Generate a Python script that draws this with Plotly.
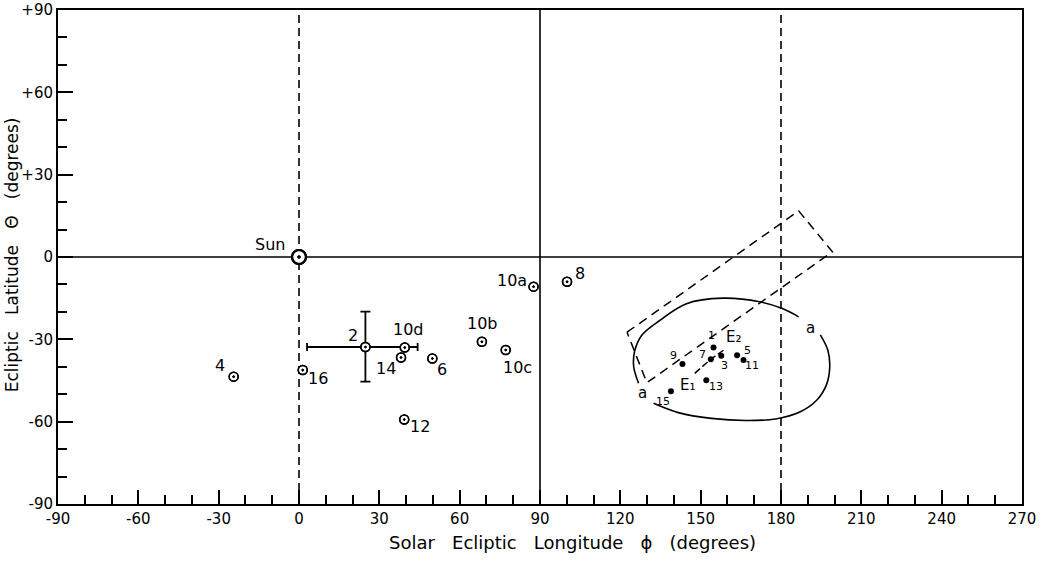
import plotly.graph_objects as go

# ---------------- data (degrees) ----------------
# open "dotted circle" observations
open_names = ["4", "16", "14", "6", "12", "10a", "8", "10b", "10c", "10d"]
open_lon = [-24.4, 1.4, 38.1, 49.8, 39.3, 87.6, 100.1, 68.3, 77.2, 39.5]
open_lat = [-43.6, -41.2, -36.6, -37.0, -59.2, -10.8, -9.0, -30.9, -33.9, -33.0]

# point 2 with error bars
p2_lon = [24.8]
p2_lat = [-32.8]
p2_err_lon_plus = [19.5]
p2_err_lon_minus = [21.8]
p2_err_lat_plus = [12.9]
p2_err_lat_minus = [12.6]

# Sun
sun_lon = [0.0]
sun_lat = [0.0]

# filled dots (cluster)
dot_names = ["1", "3", "7", "9", "5", "11", "13", "15"]
dot_lon = [154.8, 157.7, 153.8, 143.2, 163.6, 166.0, 152.1, 138.9]
dot_lat = [-33.0, -36.0, -37.3, -39.0, -35.8, -37.5, -44.9, -48.9]

# closed curve "a" (two solid pieces, gaps at the labels)
curve_a1_lon = [126.8, 125.0, 125.3, 128.0, 134.9, 144.7, 158.3, 172.0, 180.5, 186.6]
curve_a1_lat = [-46.0, -40.0, -34.5, -28.5, -23.0, -17.0, -15.0, -16.3, -18.8, -21.8]
curve_a2_lon = [194.7, 197.5, 198.2, 197.0, 193.5, 187.0, 178.0, 166.8, 154.0, 142.0, 132.4]
curve_a2_lat = [-28.4, -34.0, -40.0, -46.5, -52.0, -56.5, -59.0, -59.6, -58.8, -56.8, -53.3]

# dashed rotated rectangle
rect_lon = [122.5, 186.6, 199.2, 129.9, 122.5]
rect_lat = [-27.4, 16.8, 1.9, -45.8, -27.4]

# short dashed curve E1 -> E2
e_lon = [147.8, 151.0, 153.8, 156.5, 158.9]
e_lat = [-42.4, -39.6, -37.3, -35.4, -33.7]

# free labels
free_text = ["E\u2081", "E\u2082", "a", "a"]
free_lon = [145.3, 162.6, 128.1, 190.9]
free_lat = [-46.6, -29.0, -49.5, -25.8]

# reference lines
solid_lon_lines = [90]
dashed_lon_lines = [0, 180]
solid_lat_lines = [0]

# axis ticks
x_ticks = [-90, -60, -30, 0, 30, 60, 90, 120, 150, 180, 210, 240, 270]
x_ticklabels = ["-90", "-60", "-30", "0", "30", "60", "90", "120", "150", "180", "210", "240", "270"]
y_ticks = [-90, -60, -30, 0, 30, 60, 90]
y_ticklabels = ["-90", "-60", "-30", "0", "+30", "+60", "+90"]

# label offsets (pixels) -- styling
open_offsets = {"4": (-14, 11), "16": (15, -8), "14": (-15, -11), "6": (10, -11),
                "12": (16, -7), "10a": (-22, 6), "8": (13, 8), "10b": (1, 18),
                "10c": (12, -17), "10d": (4, 18)}
dot_offsets = {"1": (-2, 12), "3": (3, -10), "7": (-8, 5), "9": (-9, 9),
               "5": (10, 5), "11": (8, -6), "13": (10, -6), "15": (-8, -10)}

BLACK = "black"
FONT = "DejaVu Sans"

fig = go.Figure()

# reference lines
for x in solid_lon_lines:
    fig.add_trace(go.Scatter(x=[x, x], y=[-90, 90], mode="lines",
                             line=dict(color=BLACK, width=1.6), hoverinfo="skip"))
for x in dashed_lon_lines:
    fig.add_trace(go.Scatter(x=[x, x], y=[-90, 90], mode="lines",
                             line=dict(color=BLACK, width=1.6, dash="8px,5px"), hoverinfo="skip"))
for y in solid_lat_lines:
    fig.add_trace(go.Scatter(x=[-90, 270], y=[y, y], mode="lines",
                             line=dict(color=BLACK, width=1.6), hoverinfo="skip"))

# curve a
fig.add_trace(go.Scatter(x=curve_a1_lon, y=curve_a1_lat, mode="lines",
                         line=dict(color=BLACK, width=1.6, shape="spline"), hoverinfo="skip"))
fig.add_trace(go.Scatter(x=curve_a2_lon, y=curve_a2_lat, mode="lines",
                         line=dict(color=BLACK, width=1.6, shape="spline"), hoverinfo="skip"))
# dashed rectangle
fig.add_trace(go.Scatter(x=rect_lon, y=rect_lat, mode="lines",
                         line=dict(color=BLACK, width=1.5, dash="9px,6px"), hoverinfo="skip"))
# E1-E2 curve
fig.add_trace(go.Scatter(x=e_lon, y=e_lat, mode="lines",
                         line=dict(color=BLACK, width=1.5, dash="7px,3px", shape="spline"),
                         hoverinfo="skip"))

# point 2 with error bars
fig.add_trace(go.Scatter(x=p2_lon, y=p2_lat, mode="markers",
                         marker=dict(symbol="circle-open-dot", size=9, color=BLACK,
                                     line=dict(width=1.5, color=BLACK)),
                         error_x=dict(type="data", symmetric=False, array=p2_err_lon_plus,
                                      arrayminus=p2_err_lon_minus, color=BLACK,
                                      thickness=1.8, width=4),
                         error_y=dict(type="data", symmetric=False, array=p2_err_lat_plus,
                                      arrayminus=p2_err_lat_minus, color=BLACK,
                                      thickness=1.8, width=5)))
fig.add_trace(go.Scatter(x=p2_lon, y=p2_lat, mode="markers",
                         marker=dict(symbol="circle-dot", size=9, color="white",
                                     line=dict(width=1.5, color=BLACK))))
fig.add_trace(go.Scatter(x=p2_lon, y=p2_lat, mode="markers",
                         marker=dict(symbol="circle-open-dot", size=9, color=BLACK,
                                     line=dict(width=1.5, color=BLACK))))

# open dotted circles
fig.add_trace(go.Scatter(x=open_lon, y=open_lat, mode="markers",
                         marker=dict(symbol="circle-dot", size=9, color="white",
                                     line=dict(width=1.5, color=BLACK))))
fig.add_trace(go.Scatter(x=open_lon, y=open_lat, mode="markers",
                         marker=dict(symbol="circle-open-dot", size=9, color=BLACK,
                                     line=dict(width=1.5, color=BLACK))))
# sun
fig.add_trace(go.Scatter(x=sun_lon, y=sun_lat, mode="markers",
                         marker=dict(symbol="circle-dot", size=14, color="white",
                                     line=dict(width=2.2, color=BLACK))))
fig.add_trace(go.Scatter(x=sun_lon, y=sun_lat, mode="markers",
                         marker=dict(symbol="circle-open-dot", size=14, color=BLACK,
                                     line=dict(width=2.2, color=BLACK))))
# filled dots
fig.add_trace(go.Scatter(x=dot_lon, y=dot_lat, mode="markers",
                         marker=dict(symbol="circle", size=6, color=BLACK)))

annotations = []
for n, x, y in zip(open_names, open_lon, open_lat):
    dx, dy = open_offsets[n]
    annotations.append(dict(x=x, y=y, text=n, showarrow=False, xshift=dx, yshift=dy,
                            font=dict(family=FONT, size=16, color=BLACK)))
for n, x, y in zip(dot_names, dot_lon, dot_lat):
    dx, dy = dot_offsets[n]
    annotations.append(dict(x=x, y=y, text=n, showarrow=False, xshift=dx, yshift=dy,
                            font=dict(family=FONT, size=11, color=BLACK)))
annotations.append(dict(x=p2_lon[0], y=p2_lat[0], text="2", showarrow=False, xshift=-12, yshift=12,
                        font=dict(family=FONT, size=16, color=BLACK)))
annotations.append(dict(x=sun_lon[0], y=sun_lat[0], text="Sun", showarrow=False, xshift=-29, yshift=13,
                        font=dict(family=FONT, size=16, color=BLACK)))
for t, x, y in zip(free_text, free_lon, free_lat):
    annotations.append(dict(x=x, y=y, text=t, showarrow=False,
                            font=dict(family=FONT, size=15, color=BLACK)))

sp = "\u00a0"
annotations.append(dict(xref="paper", yref="paper", x=0.534, y=-0.078,
                        text="Solar" + sp*3 + "Ecliptic" + sp*3 + "Longitude" + sp*3 + "\u03d5" + sp*3 + "(degrees)",
                        showarrow=False, font=dict(family=FONT, size=18, color=BLACK),
                        xanchor="center", yanchor="middle"))
annotations.append(dict(xref="paper", yref="paper", x=-0.048, y=0.505,
                        text="Ecliptic" + sp*3 + "Latitude" + sp*3 + "\u0398" + sp*3 + "(degrees)",
                        textangle=-90, showarrow=False,
                        font=dict(family=FONT, size=17, color=BLACK),
                        xanchor="center", yanchor="middle"))

fig.update_layout(
    width=1055, height=563,
    margin=dict(l=58, r=33, t=10, b=59),
    plot_bgcolor="white", paper_bgcolor="white",
    showlegend=False,
    annotations=annotations,
    xaxis=dict(range=[-90, 270], tickvals=x_ticks, ticktext=x_ticklabels, automargin=False,
               ticks="inside", ticklen=14, tickwidth=1.6, tickcolor=BLACK,
               minor=dict(dtick=10, tick0=0, ticks="inside", ticklen=9, tickwidth=1.5, tickcolor=BLACK),
               showline=True, linecolor=BLACK, linewidth=2, mirror=True,
               showgrid=False, zeroline=False,
               tickfont=dict(family=FONT, size=15, color=BLACK)),
    yaxis=dict(range=[-90, 90], tickvals=y_ticks, ticktext=y_ticklabels, automargin=False,
               ticks="inside", ticklen=15, tickwidth=1.6, tickcolor=BLACK,
               minor=dict(dtick=10, tick0=0, ticks="inside", ticklen=9, tickwidth=1.5, tickcolor=BLACK),
               showline=True, linecolor=BLACK, linewidth=2, mirror=True,
               showgrid=False, zeroline=False,
               tickfont=dict(family=FONT, size=15, color=BLACK)),
)

fig.write_html("out.html", config={"displayModeBar": False},
               post_script="document.body.style.margin='0px';")
